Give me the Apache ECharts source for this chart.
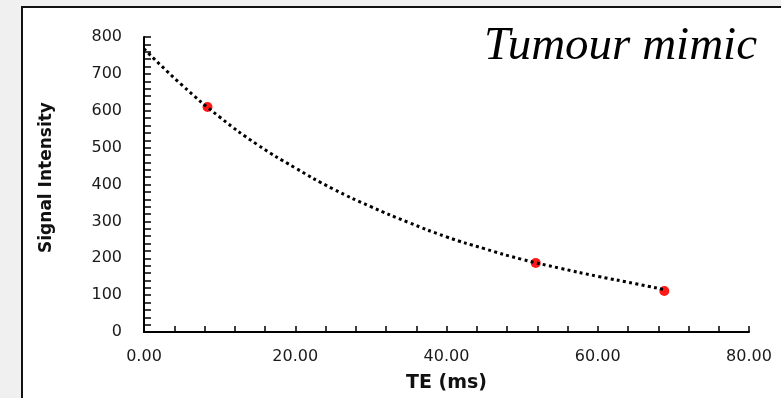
<!DOCTYPE html>
<html>
<head>
<meta charset="utf-8">
<script src="https://cdn.jsdelivr.net/npm/echarts@6/dist/echarts.min.js"></script>
<style>
html,body{margin:0;padding:0;background:#f0f0f0;}
#chart{width:781px;height:398px;}
</style>
</head>
<body>
<div id="chart"></div>
<script>
// Measured points (TE in ms, signal intensity)
const teMeasured = [8.4, 51.8, 68.8];
const siMeasured = [610, 187, 111];
// Dotted exponential trendline
const trendTE = [0, 5, 10, 15, 20, 25, 30, 35, 40, 45, 50, 55, 60, 65, 69];
const trendSI = [768, 670, 583, 508, 445, 388, 340, 297, 258, 226, 197, 173, 151, 131, 114];
// Tick labels
const xTickLabels = [0, 20, 40, 60, 80];
const yTickLabels = [0, 100, 200, 300, 400, 500, 600, 700, 800];
const titleText = 'Tumour mimic';
const xName = 'TE (ms)';
const yName = 'Signal Intensity';

const chart = echarts.init(document.getElementById('chart'), null, {renderer: 'canvas'});
const option = {
  backgroundColor: '#f0f0f0',
  animation: false,
  graphic: [{
    type: 'rect',
    z: -10,
    shape: {x: 22, y: 7, width: 800, height: 420},
    style: {fill: '#ffffff', stroke: '#111111', lineWidth: 2}
  }],
  title: {
    text: titleText,
    right: 19,
    top: 18,
    textStyle: {fontFamily: 'Liberation Serif', fontStyle: 'italic', fontWeight: 'normal', fontSize: 47, color: '#000'}
  },
  grid: {left: 144, right: 32, top: 37, bottom: 64, containLabel: false},
  xAxis: {
    type: 'value', min: 0, max: 80, interval: 4,
    name: xName, nameLocation: 'middle', nameGap: 42,
    nameTextStyle: {fontFamily: 'DejaVu Sans', fontWeight: 'bold', fontSize: 19, color: '#111'},
    axisLine: {show: true, lineStyle: {color: '#000', width: 2}},
    axisTick: {show: true, inside: true, length: 6, lineStyle: {color: '#000', width: 1.5}},
    splitLine: {show: false},
    axisLabel: {
      margin: 17, fontFamily: 'DejaVu Sans', fontSize: 16, color: '#1a1a1a',
      showMinLabel: true, showMaxLabel: true,
      formatter: v => xTickLabels.indexOf(Math.round(v)) >= 0 && Math.abs(v - Math.round(v)) < 1e-6 ? Number(v).toFixed(2) : ''
    }
  },
  yAxis: {
    type: 'value', min: 0, max: 800, interval: 20,
    name: yName, nameLocation: 'middle', nameGap: 89, nameRotate: 90,
    nameTextStyle: {fontFamily: 'DejaVu Sans', fontWeight: 'bold', fontSize: 17, color: '#111', padding: [0, 0, 0, 14]},
    axisLine: {show: true, lineStyle: {color: '#000', width: 2}},
    axisTick: {show: true, inside: true, length: 7, lineStyle: {color: '#000', width: 1.5}},
    splitLine: {show: false},
    axisLabel: {
      margin: 22, fontFamily: 'DejaVu Sans', fontSize: 16, color: '#1a1a1a',
      formatter: v => yTickLabels.indexOf(Math.round(v)) >= 0 ? String(Math.round(v)) : ''
    }
  },
  series: [
    {
      type: 'scatter',
      data: teMeasured.map((t, i) => [t, siMeasured[i]]),
      symbol: 'circle', symbolSize: 10,
      itemStyle: {color: '#ff1a1a', opacity: 1},
      z: 2
    },
    {
      type: 'line',
      data: trendTE.map((t, i) => [t, trendSI[i]]),
      smooth: true, showSymbol: false, symbol: 'none',
      lineStyle: {color: '#000', width: 3, type: [3, 3.3]},
      z: 3
    }
  ]
};
chart.setOption(option);
</script>
</body>
</html>
